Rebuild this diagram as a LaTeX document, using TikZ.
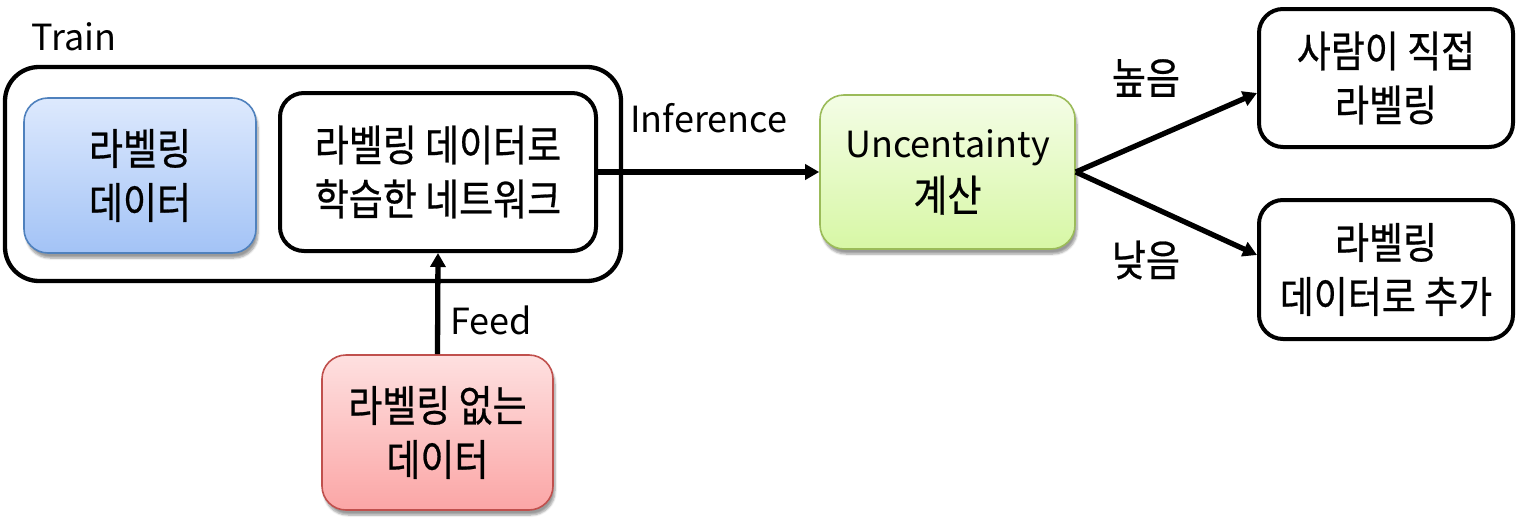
\documentclass[tikz,border=0pt]{standalone}
\usepackage{fontspec}
\setmainfont{Noto Sans CJK KR}
\newfontfamily\kr[FakeStretch=0.86,FakeBold=0.6]{Noto Sans CJK KR}
\usetikzlibrary{arrows.meta,shadows.blur}
\definecolor{bluetop}{HTML}{DDE9FD}
\definecolor{bluebot}{HTML}{A3C3F6}
\definecolor{blueline}{HTML}{4F81BD}
\definecolor{greentop}{HTML}{F4FDE6}
\definecolor{greenbot}{HTML}{D7F7A5}
\definecolor{greenline}{HTML}{9BBB59}
\definecolor{redtop}{HTML}{FEE0E0}
\definecolor{redbot}{HTML}{FBA6A6}
\definecolor{redline}{HTML}{C0504D}
\tikzset{
  box/.style={draw=black, line width=4pt, rounded corners=24pt, inner sep=0pt, align=center,
    font=\kr\fontsize{43}{54}\selectfont},
  cbox/.style={draw=#1line, line width=1.6pt, rounded corners=24pt, inner sep=0pt, align=center,
    top color=#1top, bottom color=#1bot,
    blur shadow={shadow xshift=2pt, shadow yshift=-5pt, shadow blur steps=6, shadow opacity=40},
    font=\kr\fontsize{43}{54}\selectfont},
  lbl/.style={font=\fontsize{36}{44}\selectfont, inner sep=0pt},
  klbl/.style={font=\kr\fontsize{43}{50}\selectfont, inner sep=0pt},
  conn/.style={line width=5.3pt, -{Triangle[length=14pt,width=15pt]}},
}
\begin{document}
\begin{tikzpicture}[x=1pt,y=-1pt]
\useasboundingbox (0,0) rectangle (1519,522);
\node[box, rounded corners=34pt, line width=4.3pt, minimum width=616pt, minimum height=214pt] (train) at (313,174) {};
\node[lbl] (trainlbl) at (74,37) {Train};
\node[cbox=blue, minimum width=232pt, minimum height=155pt] (lab) at (140,175.5) {라벨링\\데이터};
\node[box, minimum width=316pt, minimum height=158pt] (net) at (438,172) {라벨링 데이터로\\학습한 네트워크};
\node[cbox=green, minimum width=255pt, minimum height=154pt] (unc) at (947.5,172)
  {{\rmfamily\fontsize{36}{54}\selectfont Uncentainty}\\계산};
\node[box, minimum width=254pt, minimum height=138pt] (human) at (1386,78) {사람이 직접\\라벨링};
\node[box, minimum width=254pt, minimum height=139pt] (add) at (1386,269.5) {라벨링\\데이터로 추가};
\node[cbox=red, minimum width=231pt, minimum height=155pt] (unl) at (437.5,432.5) {라벨링 없는\\데이터};

\draw[conn] (net.east) -- (unc.west) node[lbl, midway, above=36pt] (inf) {Inference};
\draw[conn] (unl.north) -- (net.south);
\node[lbl] (feed) at (491,320) {Feed};
\draw[conn] (unc.east) -- ([yshift=-15pt]human.west);
\draw[conn] (unc.east) -- ([yshift=14.5pt]add.west);
\node[klbl] (high) at (1146,78) {높음};
\node[klbl] (low) at (1146,260) {낮음};
\end{tikzpicture}
\end{document}
